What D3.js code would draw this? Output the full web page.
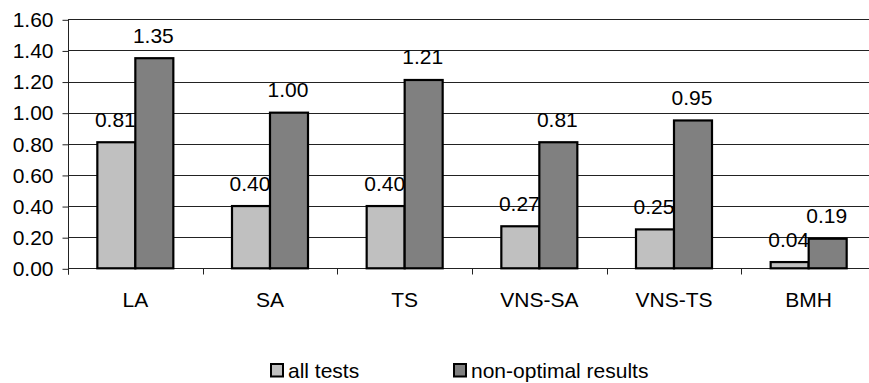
<!DOCTYPE html>
<html>
<head>
<meta charset="utf-8">
<script src="https://cdn.jsdelivr.net/npm/d3@7"></script>
<style>
  html, body { margin: 0; padding: 0; background: #fff; }
  svg { display: block; }
  text { font-family: Arial, "Liberation Sans", sans-serif; fill: #000; }
</style>
</head>
<body>
<svg id="chart" width="869" height="383"></svg>
<script>
// Average deviation per method
const categories = ["LA", "SA", "TS", "VNS-SA", "VNS-TS", "BMH"];
const allTests = [0.81, 0.40, 0.40, 0.27, 0.25, 0.04];
const nonOptimal = [1.35, 1.00, 1.21, 0.81, 0.95, 0.19];
const seriesNames = ["all tests", "non-optimal results"];
const seriesColors = ["#c0c0c0", "#808080"];
const yTicks = [0, 0.2, 0.4, 0.6, 0.8, 1.0, 1.2, 1.4, 1.6];

(function draw() {
  const svg = d3.select("#chart");
  const plotLeft = 68, plotRight = 876, plotTop = 19.3, plotBottom = 268.3;
  const fontSize = 21;

  const x = d3.scaleBand().domain(categories).range([plotLeft, plotRight]).paddingInner(0).paddingOuter(0);
  const inner = d3.scaleBand().domain([0, 1]).range([0, 76]);
  const groupOffset = (x.bandwidth() - 76) / 2;
  const y = d3.scaleLinear().domain([0, 1.6]).range([plotBottom, plotTop]);

  // gridlines
  svg.append("g").selectAll("line").data(yTicks.slice(1)).join("line")
    .attr("x1", plotLeft).attr("x2", 869)
    .attr("y1", d => Math.round(y(d)) + 0.5).attr("y2", d => Math.round(y(d)) + 0.5)
    .attr("stroke", "#222").attr("stroke-width", 1);

  // y axis
  const yAxis = d3.axisLeft(y).tickValues(yTicks).tickFormat(d3.format(".2f")).tickSize(6).tickPadding(9);
  const gy = svg.append("g").attr("transform", `translate(${plotLeft + 0.5},0.5)`).call(yAxis);
  gy.select(".domain").attr("d", `M0,${Math.round(plotTop)}V${Math.round(plotBottom) + 6}`).attr("stroke", "#222");
  gy.selectAll(".tick line").attr("stroke", "#222");
  gy.selectAll(".tick text").attr("font-size", fontSize).attr("font-family", "Arial, 'Liberation Sans', sans-serif").attr("fill", "#000");

  // x axis
  const gx = svg.append("g").attr("transform", `translate(0,${Math.round(plotBottom) + 0.5})`);
  gx.append("line").attr("x1", plotLeft).attr("x2", 869).attr("stroke", "#222");
  gx.selectAll(".xt").data(d3.range(categories.length + 1)).join("line")
    .attr("class", "xt")
    .attr("x1", i => Math.round(plotLeft + i * x.bandwidth()) + 0.5)
    .attr("x2", i => Math.round(plotLeft + i * x.bandwidth()) + 0.5)
    .attr("y1", 0).attr("y2", 6).attr("stroke", "#222");
  svg.append("g").selectAll("text").data(categories).join("text")
    .attr("x", d => x(d) + x.bandwidth() / 2)
    .attr("y", 306.5)
    .attr("text-anchor", "middle")
    .attr("font-size", fontSize)
    .text(d => d);

  // bars
  const series = [allTests, nonOptimal];
  series.forEach((vals, si) => {
    const g = svg.append("g");
    g.selectAll("rect").data(vals).join("rect")
      .attr("x", (d, i) => x(categories[i]) + groupOffset + inner(si))
      .attr("y", d => y(d))
      .attr("width", inner.bandwidth())
      .attr("height", d => y(0) - y(d))
      .attr("fill", seriesColors[si])
      .attr("stroke", "#000")
      .attr("stroke-width", 2.2);
    g.selectAll("text").data(vals).join("text")
      .attr("x", (d, i) => x(categories[i]) + groupOffset + inner(si) + inner.bandwidth() / 2 - 1)
      .attr("y", d => y(d) - 15.5)
      .attr("text-anchor", "middle")
      .attr("font-size", fontSize)
      .text(d => d3.format(".2f")(d));
  });

  // legend
  const legendX = [270, 453];
  const legend = svg.append("g").selectAll("g").data(seriesNames).join("g")
    .attr("transform", (d, i) => `translate(${legendX[i]},363)`);
  legend.append("rect").attr("x", 1).attr("y", 1).attr("width", 12).attr("height", 12.5)
    .attr("fill", (d, i) => seriesColors[i]).attr("stroke", "#000").attr("stroke-width", 2);
  legend.append("text").attr("x", 18).attr("y", 14.6).attr("font-size", fontSize).text(d => d);
})();
</script>
</body>
</html>
